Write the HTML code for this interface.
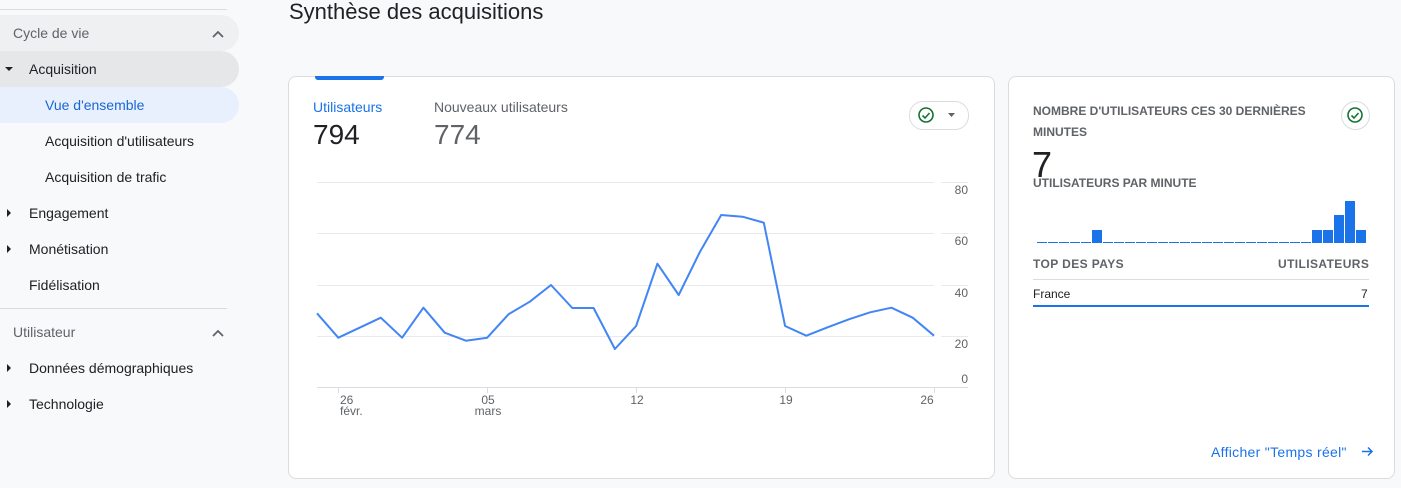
<!DOCTYPE html>
<html><head><meta charset="utf-8"><style>
body{margin:0;width:1401px;height:488px;background:#f8f9fa;font-family:"Liberation Sans",Arial,sans-serif;position:relative;overflow:hidden;color:#202124}
.a{position:absolute;white-space:nowrap}
.nav{font-size:14px;color:#202124}
.card{position:absolute;background:#fff;border:1px solid #dadce0;border-radius:8px}
.cap{font-size:12px;color:#5f6368;letter-spacing:0;font-weight:bold}
.tri{position:absolute;width:0;height:0;border-top:4px solid transparent;border-bottom:4px solid transparent;border-left:4px solid #202124}
</style></head><body>
<div class="a" style="left:0;top:9px;width:227px;height:1px;background:#dadce0"></div>
<div class="a" style="left:0;top:15px;width:239px;height:36px;background:#eef0f2;border-radius:0 18px 18px 0"></div>
<div class="a nav" style="left:13px;top:25px;color:#5f6368">Cycle de vie</div>
<div class="a" style="left:0;top:51px;width:239px;height:36px;background:#e6e7e9;border-radius:0 18px 18px 0"></div>
<div class="a" style="left:5px;top:67px;width:0;height:0;border-left:4px solid transparent;border-right:4px solid transparent;border-top:4px solid #202124"></div>
<div class="a nav" style="left:29px;top:61px">Acquisition</div>
<div class="a" style="left:0;top:87px;width:239px;height:36px;background:#e8f0fe;border-radius:0 18px 18px 0"></div>
<div class="a nav" style="left:45px;top:97px;color:#1967d2">Vue d'ensemble</div>
<div class="a nav" style="left:45px;top:133px">Acquisition d'utilisateurs</div>
<div class="a nav" style="left:45px;top:169px">Acquisition de trafic</div>
<div class="tri" style="left:7px;top:209px"></div><div class="a nav" style="left:29px;top:205px">Engagement</div>
<div class="tri" style="left:7px;top:245px"></div><div class="a nav" style="left:29px;top:241px">Monétisation</div>
<div class="a nav" style="left:29px;top:277px">Fidélisation</div>
<div class="a" style="left:0;top:308px;width:227px;height:1px;background:#dadce0"></div>
<div class="a nav" style="left:13px;top:324px;color:#5f6368">Utilisateur</div>
<div class="tri" style="left:7px;top:364px"></div><div class="a nav" style="left:29px;top:360px">Données démographiques</div>
<div class="tri" style="left:7px;top:400px"></div><div class="a nav" style="left:29px;top:396px">Technologie</div>

<div class="a" style="left:289px;top:-1px;font-size:22px;color:#202124">Synthèse des acquisitions</div>

<div class="card" style="left:288px;top:76px;width:705px;height:401px"></div>
<div class="a" style="left:315px;top:76px;width:69px;height:4px;background:#1a73e8;border-radius:0 0 3px 3px"></div>
<div class="a" style="left:313px;top:99px;font-size:14px;color:#1a73e8">Utilisateurs</div>
<div class="a" style="left:313px;top:119px;font-size:28px;color:#202124">794</div>
<div class="a" style="left:434px;top:99px;font-size:14px;color:#5f6368">Nouveaux utilisateurs</div>
<div class="a" style="left:434px;top:119px;font-size:28px;color:#5f6368">774</div>
<div class="a" style="left:909px;top:101px;width:58px;height:27px;border:1px solid #dadce0;border-radius:14px;background:#fff"></div>
<svg class="a" style="left:0;top:0" width="1401" height="488">
<path d="M213 37l5-5 5 5M213 336l5-5 5 5" fill="none" stroke="#5f6368" stroke-width="1.8"/>
<circle cx="926" cy="115" r="7" fill="none" stroke="#137333" stroke-width="1.6"/>
<path d="M922.5 115.5l2.5 2.5 4.5-5" fill="none" stroke="#137333" stroke-width="1.6"/>
<path d="M948 113h7l-3.5 4z" fill="#5f6368"/>
<g stroke="#e8eaed" stroke-width="1">
<line x1="317" y1="182.5" x2="934" y2="182.5"/><line x1="317" y1="233.5" x2="934" y2="233.5"/>
<line x1="317" y1="285.5" x2="934" y2="285.5"/><line x1="317" y1="336.5" x2="934" y2="336.5"/>
<line x1="941" y1="182.5" x2="968" y2="182.5"/><line x1="941" y1="233.5" x2="968" y2="233.5"/>
<line x1="941" y1="285.5" x2="968" y2="285.5"/><line x1="941" y1="336.5" x2="968" y2="336.5"/>
</g>
<line x1="317" y1="387.5" x2="968" y2="387.5" stroke="#dadce0"/>
<g stroke="#dadce0"><line x1="338.5" y1="388" x2="338.5" y2="393"/><line x1="487.5" y1="388" x2="487.5" y2="393"/><line x1="636.5" y1="388" x2="636.5" y2="393"/><line x1="785.5" y1="388" x2="785.5" y2="393"/><line x1="934.5" y1="388" x2="934.5" y2="393"/></g>
<polyline fill="none" stroke="#4285f4" stroke-width="2" stroke-linejoin="round" points="317,313.3 338.3,337.7 359.6,327.7 380.8,317.7 402.1,337.7 423.4,307.7 444.7,332.7 465.9,340.7 487.2,337.7 508.5,314.3 529.8,301.7 551,285 572.3,308 593.6,308 614.9,349 636.1,326 657.4,263.7 678.7,295 700,251.7 721.2,215 742.5,216.7 763.8,222.7 785.1,326 806.3,335.7 827.6,327.3 848.9,319.3 870.2,312.3 891.4,307.7 912.7,317.7 934,335.7"/>
<g font-size="12" fill="#5f6368" font-family="Liberation Sans,Arial,sans-serif">
<text x="968" y="194" text-anchor="end">80</text><text x="968" y="245" text-anchor="end">60</text>
<text x="968" y="297" text-anchor="end">40</text><text x="968" y="348" text-anchor="end">20</text>
<text x="968" y="383" text-anchor="end">0</text>
<text x="340" y="404">26</text><text x="340" y="415">févr.</text>
<text x="488" y="404" text-anchor="middle">05</text><text x="488" y="415" text-anchor="middle">mars</text>
<text x="637" y="404" text-anchor="middle">12</text><text x="786" y="404" text-anchor="middle">19</text>
<text x="927" y="404" text-anchor="middle">26</text>
</g>
</svg>

<div class="card" style="left:1008px;top:76px;width:385px;height:401px"></div>
<div class="a cap" style="left:1033px;top:101px;line-height:21px;white-space:normal;width:290px">NOMBRE D'UTILISATEURS CES 30 DERNIÈRES MINUTES</div>
<div class="a" style="left:1341px;top:101px;width:27px;height:27px;border:1px solid #dadce0;border-radius:50%;background:#fff"></div>
<div class="a" style="left:1032px;top:144px;font-size:36px;color:#202124">7</div>
<div class="a cap" style="left:1033px;top:176px">UTILISATEURS PAR MINUTE</div>
<svg class="a" style="left:0;top:0" width="1401" height="488">
<circle cx="1355" cy="115" r="7" fill="none" stroke="#137333" stroke-width="1.6"/>
<path d="M1351.5 115.5l2.5 2.5 4.5-5" fill="none" stroke="#137333" stroke-width="1.6"/>
<g fill="#1a73e8">
<rect x="1037" y="242" width="10" height="1"/><rect x="1048" y="242" width="10" height="1"/><rect x="1059" y="242" width="10" height="1"/><rect x="1070" y="242" width="10" height="1"/><rect x="1081" y="242" width="10" height="1"/>
<rect x="1092" y="230" width="10" height="13"/>
<rect x="1103" y="242" width="10" height="1"/><rect x="1114" y="242" width="10" height="1"/><rect x="1125" y="242" width="10" height="1"/><rect x="1136" y="242" width="10" height="1"/><rect x="1147" y="242" width="10" height="1"/><rect x="1158" y="242" width="10" height="1"/><rect x="1169" y="242" width="10" height="1"/><rect x="1180" y="242" width="10" height="1"/><rect x="1191" y="242" width="10" height="1"/><rect x="1202" y="242" width="10" height="1"/><rect x="1213" y="242" width="10" height="1"/><rect x="1224" y="242" width="10" height="1"/><rect x="1235" y="242" width="10" height="1"/><rect x="1246" y="242" width="10" height="1"/><rect x="1257" y="242" width="10" height="1"/><rect x="1268" y="242" width="10" height="1"/><rect x="1279" y="242" width="10" height="1"/><rect x="1290" y="242" width="10" height="1"/><rect x="1301" y="242" width="10" height="1"/>
<rect x="1312" y="230" width="10" height="13"/><rect x="1323" y="230" width="10" height="13"/><rect x="1334" y="215" width="10" height="28"/><rect x="1345" y="201" width="10" height="42"/><rect x="1356" y="230" width="10" height="13"/>
</g>
<line x1="1033" y1="279.5" x2="1369" y2="279.5" stroke="#dadce0"/>
<rect x="1033" y="305" width="336" height="2" fill="#1a73e8"/>
<path d="M1362 451.5h10M1368 447.5l4 4-4 4" fill="none" stroke="#1a73e8" stroke-width="1.5"/>
</svg>
<div class="a cap" style="left:1033px;top:257px;letter-spacing:.4px">TOP DES PAYS</div>
<div class="a cap" style="left:1278px;top:257px;letter-spacing:.4px">UTILISATEURS</div>
<div class="a" style="left:1033px;top:287px;font-size:12px">France</div>
<div class="a" style="left:1361px;top:287px;font-size:12px">7</div>
<div class="a" style="left:1211px;top:444px;font-size:14px;color:#1a73e8;letter-spacing:.3px">Afficher "Temps réel"</div>
</body></html>
